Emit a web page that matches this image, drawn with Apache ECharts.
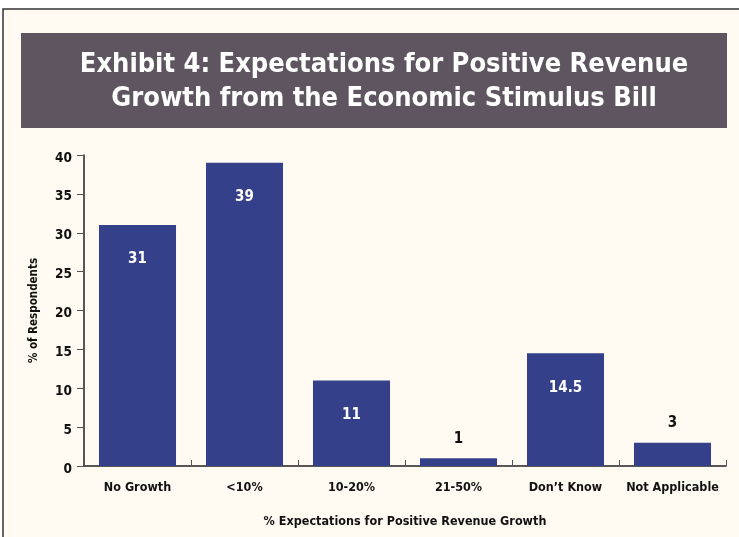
<!DOCTYPE html>
<html><head><meta charset="utf-8">
<script src="https://cdn.jsdelivr.net/npm/echarts@6/dist/echarts.min.js"></script>
<style>html,body{margin:0;padding:0;background:#fff}#c{width:739px;height:537px}</style>
</head><body><div id="c"></div>
<script>
var categories = ["No Growth", "<10%", "10-20%", "21-50%", "Don\u2019t Know", "Not Applicable"];
var values = [31, 39, 11, 1, 14.5, 3];
var yTicks = [0, 5, 10, 15, 20, 25, 30, 35, 40];
var titleText = "Exhibit 4: Expectations for Positive Revenue\nGrowth from the Economic Stimulus Bill";
var xName = "% Expectations for Positive Revenue Growth";
var yName = "% of Respondents";

var font = "'DejaVu Sans Condensed', 'DejaVu Sans', sans-serif";
var chart = echarts.init(document.getElementById('c'), null, {renderer: 'canvas'});
var data = values.map(function (v) {
  var inside = v >= 10;
  return {
    value: v,
    label: inside ? {position: 'insideTop', distance: 27, color: '#ffffff'}
                  : {position: 'top', distance: 12, color: '#111111'}
  };
});
chart.setOption({
  animation: false,
  backgroundColor: '#ffffff',
  graphic: [
    {type: 'rect', shape: {x: 3, y: 9, width: 740, height: 530}, style: {fill: '#fffbf2', stroke: '#333', lineWidth: 1.5}, z: -10},
    {type: 'rect', shape: {x: 21, y: 33, width: 706, height: 95}, style: {fill: '#5e5561'}, z: -5}
  ],
  title: {
    text: titleText, left: 379, top: 43, textAlign: 'center',
    textStyle: {color: '#ffffff', fontFamily: font, fontWeight: 'bold', fontSize: 27, lineHeight: 34}
  },
  grid: {left: 84, right: 13, top: 155, bottom: 71, containLabel: false},
  xAxis: {
    type: 'category', data: categories,
    name: xName, nameLocation: 'middle', nameGap: 49,
    nameTextStyle: {color: '#111', fontFamily: font, fontWeight: 'bold', fontSize: 12.5},
    axisLine: {lineStyle: {color: '#222', width: 1.5}},
    axisTick: {show: true, inside: true, length: 6, lineStyle: {color: '#555'}},
    axisLabel: {color: '#111', fontFamily: font, fontWeight: 'bold', fontSize: 12.5, margin: 15, interval: 0}
  },
  yAxis: {
    type: 'value', min: yTicks[0], max: yTicks[yTicks.length - 1], interval: 5,
    name: yName, nameLocation: 'middle', nameGap: 44, nameRotate: 90,
    nameTextStyle: {color: '#111', fontFamily: font, fontWeight: 'bold', fontSize: 11.5},
    axisLine: {show: true, lineStyle: {color: '#222', width: 1.5}},
    axisTick: {show: true, length: 7, lineStyle: {color: '#555'}},
    splitLine: {show: false},
    axisLabel: {color: '#111', fontFamily: font, fontWeight: 'bold', fontSize: 13.5, margin: 12, verticalAlign: 'top', padding: [-4, 0, 0, 0]}
  },
  series: [{
    type: 'bar', data: data, barWidth: '72%',
    itemStyle: {color: '#35408a'},
    label: {show: true, fontFamily: font, fontWeight: 'bold', fontSize: 15}
  }]
});
</script></body></html>
